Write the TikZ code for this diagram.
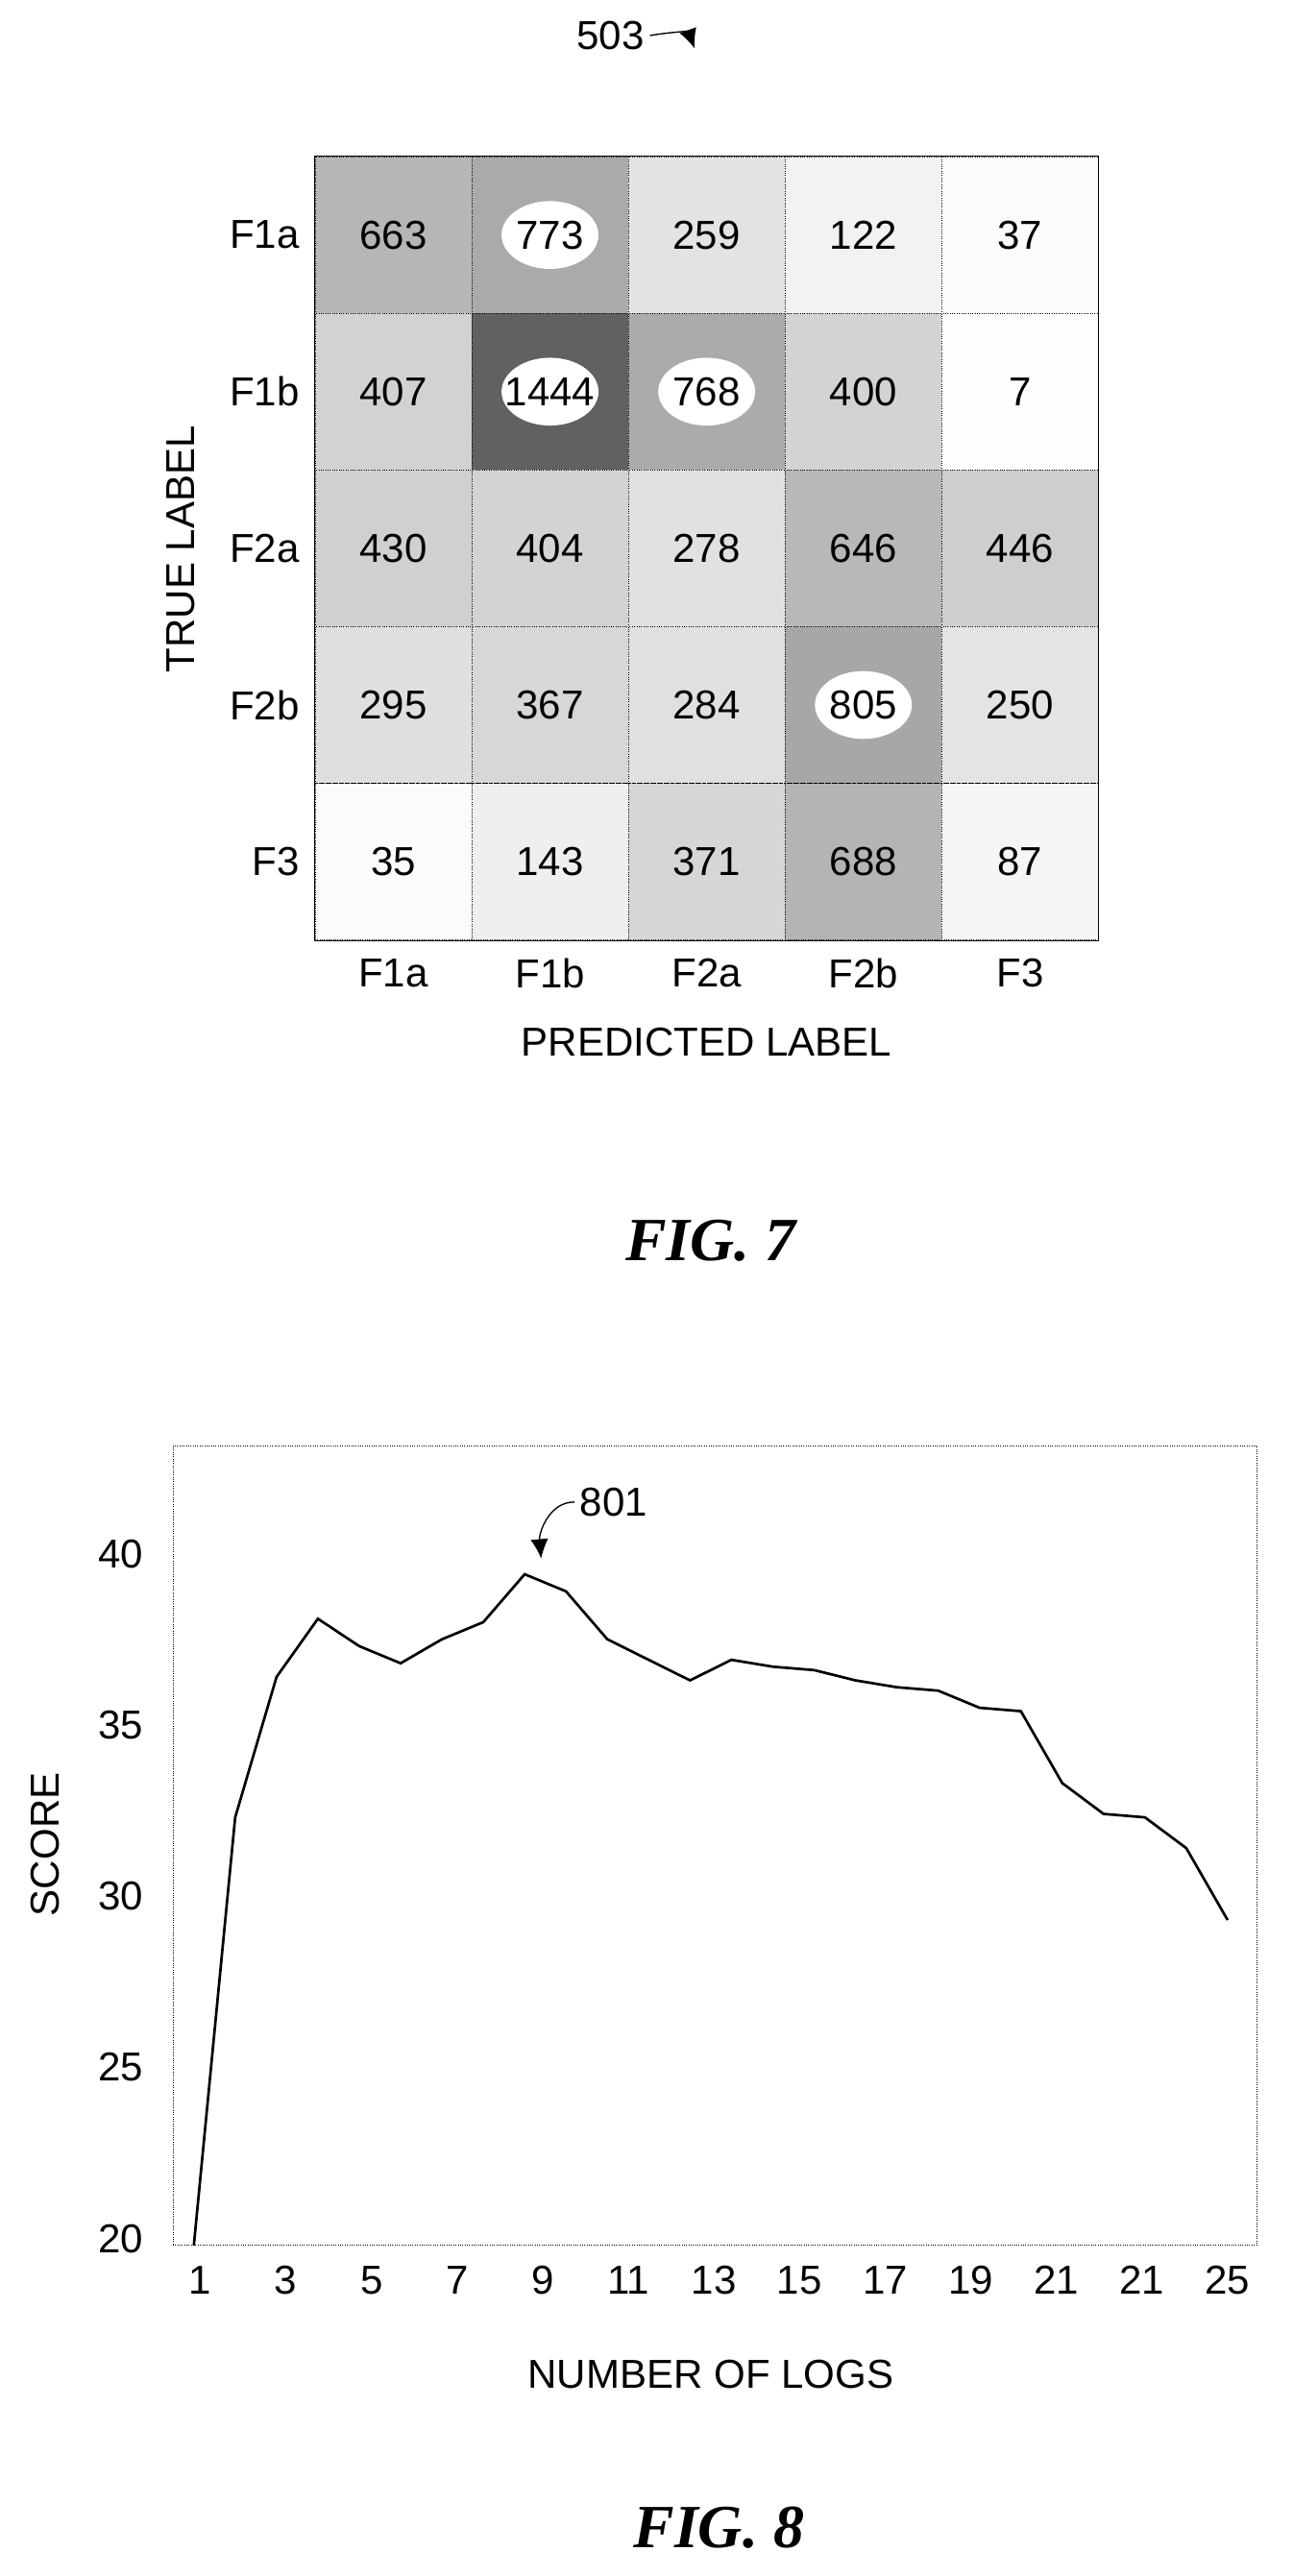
\documentclass[tikz,border=0pt]{standalone}
\usepackage{fontspec}
\setmainfont{Liberation Sans}
\newfontfamily\figfont{Liberation Serif}
\usetikzlibrary{positioning}
\usetikzlibrary{calc}
\usetikzlibrary{arrows.meta}

\tikzset{
  lbl/.style={font=\fontsize{25}{29}\selectfont},
  cell/.style={draw, densely dotted, minimum width=97pt, minimum height=97pt, inner sep=0pt},
  figlbl/.style={font=\fontsize{38}{42}\selectfont\figfont\bfseries\itshape},
  refarrow/.style={-{Latex[length=12pt,width=11pt]}, thick}
}

\begin{document}
\begin{tikzpicture}[x=1pt,y=-1pt]
  \useasboundingbox (0,0) rectangle (800,1595);

  % confusion matrix
  \foreach \vals [count=\r] in {{663,773,259,122,37},{407,1444,768,400,7},{430,404,278,646,446},{295,367,284,805,250},{35,143,371,688,87}}{
    \foreach \v [count=\c] in \vals {
      \pgfmathsetmacro\s{\v/1444*62}
      \node[cell, fill=black!\s] (c\r\c) at ({146.5+97*\c},{48.5+97*\r}) {};
      \ifnum\v>700
        \fill[white] (c\r\c) ellipse (30 and 21);
      \fi
      \node[lbl] (v\r\c) at (c\r\c) {\v};
    }
  }
  \draw (c11.north west) rectangle (c55.south east);

  \foreach \name [count=\r] in {F1a,F1b,F2a,F2b,F3}{
    \node[lbl, left=6pt of c\r1] (row\r) {\name};
    \node[lbl, below=8pt of c5\r] (col\r) {\name};
  }
  \node[lbl, below=18pt of col3] (xlab) {PREDICTED LABEL};
  \node[lbl, rotate=90] (ylab) at (112,340) {TRUE LABEL};

  \node[lbl] (n503) at (378,22) {503};
  \coordinate (t503) at (430,30);
  \draw[refarrow] (n503.east) to[out=10, in=110] (t503);

  \node[figlbl] (fig7) at (440,768) {FIG. 7};

  % score plot
  \node[draw, densely dotted, minimum width=671pt, minimum height=495pt, inner sep=0pt] (plot) at (442.5,1142.5) {};
  \foreach \y in {20,25,30,35,40}{
    \node[lbl, anchor=east] (yt\y) at (92,{1386-(\y-20)*21.2}) {\y};
  }
  \foreach \t [count=\k from 0] in {1,3,5,7,9,11,13,15,17,19,21,21,25}{
    \node[lbl] (xt\k) at ({124+53*\k},1412) {\t};
  }
  \node[lbl, rotate=90] (score) at (28,1142) {SCORE};
  \node[lbl] (nlogs) at (440,1470) {NUMBER OF LOGS};

  \draw[line width=1.6pt] plot coordinates {
    (120,{1386-(19.8-20)*21.2}) (145.6,{1386-12.3*21.2}) (171.2,{1386-16.4*21.2})
    (196.8,{1386-18.1*21.2}) (222.4,{1386-17.3*21.2}) (248,{1386-16.8*21.2})
    (273.6,{1386-17.5*21.2}) (299.2,{1386-18*21.2}) (324.8,{1386-19.4*21.2})
    (350.4,{1386-18.9*21.2}) (376,{1386-17.5*21.2}) (401.6,{1386-16.9*21.2})
    (427.2,{1386-16.3*21.2}) (452.8,{1386-16.9*21.2}) (478.4,{1386-16.7*21.2})
    (504,{1386-16.6*21.2}) (529.6,{1386-16.3*21.2}) (555.2,{1386-16.1*21.2})
    (580.8,{1386-16*21.2}) (606.4,{1386-15.5*21.2}) (632,{1386-15.4*21.2})
    (657.6,{1386-13.3*21.2}) (683.2,{1386-12.4*21.2}) (708.8,{1386-12.3*21.2})
    (734.4,{1386-11.4*21.2}) (760,{1386-9.3*21.2})};

  \node[lbl] (n801) at (380,930) {801};
  \coordinate (t801) at (335,965);
  \draw[refarrow] (n801.west) to[out=180, in=95] (t801);

  \node[figlbl] (fig8) at (445,1565) {FIG. 8};
\end{tikzpicture}
\end{document}
